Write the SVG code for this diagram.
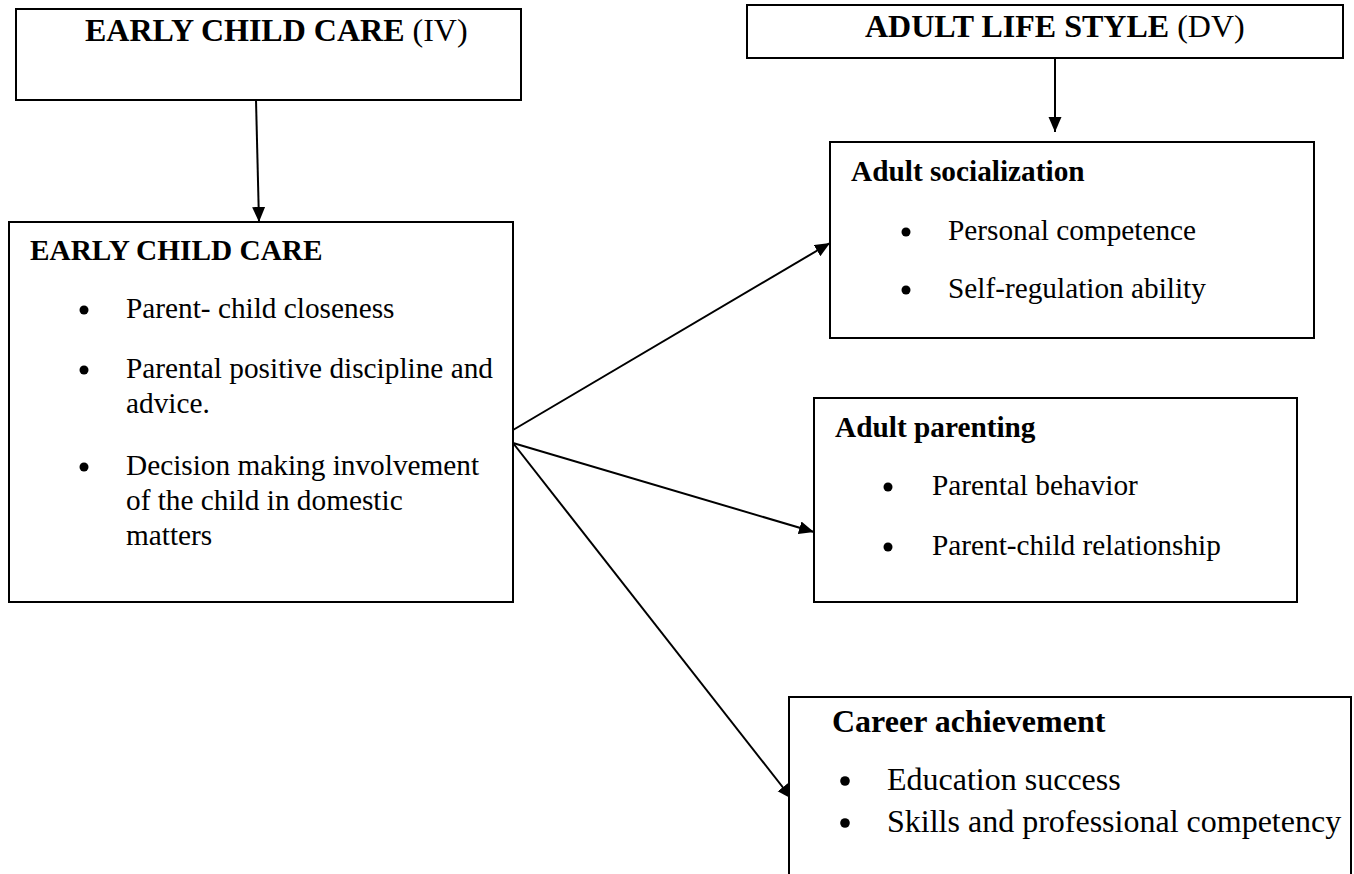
<svg xmlns="http://www.w3.org/2000/svg" width="1354" height="874" viewBox="0 0 1354 874">
<style>
.box{fill:#fff;stroke:#000;stroke-width:2}
.t{font-family:"Liberation Serif","Times New Roman",serif;fill:#000}
.h{font-size:32px}
.b{font-weight:bold}
.s{font-size:29.3px}
.l{font-size:32px}
.dot{fill:#000}
.conn{stroke:#000;stroke-width:2;fill:none;marker-end:url(#ah)}
</style>
<defs>
<marker id="ah" markerUnits="userSpaceOnUse" markerWidth="16" markerHeight="14" refX="15" refY="6.5" orient="auto">
<path d="M0,0 L15,6.5 L0,13 z" fill="#000"/>
</marker>
</defs>
<g id="connectors">
<line class="conn" x1="256" y1="100" x2="259" y2="222"/>
<line class="conn" x1="1055" y1="58" x2="1055" y2="132"/>
<line class="conn" x1="513" y1="430" x2="830" y2="243"/>
<line class="conn" x1="513" y1="443" x2="814" y2="532"/>
<line class="conn" x1="513" y1="443" x2="792" y2="799"/>
</g>
<g id="iv-header">
<rect class="box" x="16" y="9" width="505" height="91"/>
<text class="t h" x="85" y="41"><tspan class="b">EARLY CHILD CARE</tspan> (IV)</text>
</g>
<g id="dv-header">
<rect class="box" x="747" y="5" width="596" height="53"/>
<text class="t h" x="865" y="37"><tspan class="b">ADULT LIFE STYLE</tspan> (DV)</text>
</g>
<g id="early-child-care">
<rect class="box" x="9" y="222" width="504" height="380"/>
<text class="t s b" x="30" y="260">EARLY CHILD CARE</text>
<circle class="dot" cx="84" cy="310" r="4.5"/>
<text class="t s" x="126" y="318">Parent- child closeness</text>
<circle class="dot" cx="84" cy="370" r="4.5"/>
<text class="t s" x="126" y="378">Parental positive discipline and</text>
<text class="t s" x="126" y="413">advice.</text>
<circle class="dot" cx="84" cy="467" r="4.5"/>
<text class="t s" x="126" y="475">Decision making involvement</text>
<text class="t s" x="126" y="510">of the child in domestic</text>
<text class="t s" x="126" y="545">matters</text>
</g>
<g id="adult-socialization">
<rect class="box" x="830" y="142" width="484" height="196"/>
<text class="t s b" x="851" y="181">Adult socialization</text>
<circle class="dot" cx="906" cy="232" r="4.5"/>
<text class="t s" x="948" y="240">Personal competence</text>
<circle class="dot" cx="906" cy="290" r="4.5"/>
<text class="t s" x="948" y="298">Self-regulation ability</text>
</g>
<g id="adult-parenting">
<rect class="box" x="814" y="398" width="483" height="204"/>
<text class="t s b" x="835" y="437">Adult parenting</text>
<circle class="dot" cx="888" cy="487" r="4.5"/>
<text class="t s" x="932" y="495">Parental behavior</text>
<circle class="dot" cx="888" cy="547" r="4.5"/>
<text class="t s" x="932" y="555">Parent-child relationship</text>
</g>
<g id="career-achievement">
<rect class="box" x="789" y="697" width="562" height="190"/>
<text class="t l b" x="832" y="732">Career achievement</text>
<circle class="dot" cx="845" cy="781" r="4.8"/>
<text class="t l" x="887" y="790">Education success</text>
<circle class="dot" cx="845" cy="823" r="4.8"/>
<text class="t l" x="887" y="832">Skills and professional competency</text>
</g>
</svg>
